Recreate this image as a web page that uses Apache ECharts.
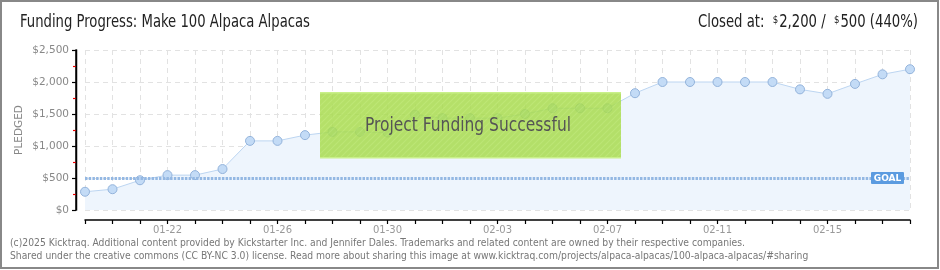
<!DOCTYPE html>
<html>
<head>
<meta charset="utf-8">
<script src="https://cdn.jsdelivr.net/npm/echarts@6/dist/echarts.min.js"></script>
<style>
html,body{margin:0;padding:0;background:#fff;}
#c{width:940px;height:270px;}
</style>
</head>
<body>
<div id="c"></div>
<script>
const dates = ['01-19','01-20','01-21','01-22','01-23','01-24','01-25','01-26','01-27','01-28','01-29','01-30','01-31','02-01','02-02','02-03','02-04','02-05','02-06','02-07','02-08','02-09','02-10','02-11','02-12','02-13','02-14','02-15','02-16','02-17','02-18'];
const pledged = [285,325,465,545,545,640,1080,1080,1170,1220,1220,1210,1490,1435,1435,1435,1500,1590,1590,1590,1825,2000,2000,2000,2000,2000,1885,1815,1970,2120,2200];
const goal = 500;
const yTicks = [0,500,1000,1500,2000,2500];
const titleText = 'Funding Progress: Make 100 Alpaca Alpacas';
const bannerText = 'Project Funding Successful';
const footer1 = '(c)2025 Kicktraq. Additional content provided by Kickstarter Inc. and Jennifer Dales. Trademarks and related content are owned by their respective companies.';
const footer2 = 'Shared under the creative commons (CC BY-NC 3.0) license. Read more about sharing this image at www.kicktraq.com/projects/alpaca-alpacas/100-alpaca-alpacas/#sharing';

function fmt(v){return '$'+v.toLocaleString('en-US');}

const NARROW = '"Liberation Sans Narrow", "DejaVu Sans Condensed", sans-serif';
const mc = document.createElement('canvas').getContext('2d');
function tw(text, font){mc.font = font; return mc.measureText(text).width;}

// hatch pattern for banner
const pc = document.createElement('canvas');
pc.width = 6; pc.height = 6;
const g = pc.getContext('2d');
g.fillStyle = '#a8db4f'; g.fillRect(0,0,6,6);
g.strokeStyle = '#b3e25e'; g.lineWidth = 1.2;
g.beginPath(); g.moveTo(0,6); g.lineTo(6,0); g.moveTo(-3,3); g.lineTo(3,-3); g.moveTo(3,9); g.lineTo(9,3); g.stroke();

const chart = echarts.init(document.getElementById('c'), null, {renderer:'canvas'});
const option = {
  animation:false,
  grid:{left:85,right:30,top:50,bottom:60},
  xAxis:{
    type:'category', data:dates, boundaryGap:false, offset:10,
    axisLine:{show:true,onZero:false,lineStyle:{color:'#000',width:1.5}},
    axisTick:{show:true,interval:0,length:4,lineStyle:{color:'#000',width:1.2}},
    axisLabel:{interval:function(i){return (i-3)%4===0;},color:'#999',fontSize:10,fontFamily:'DejaVu Sans',margin:5},
    splitLine:{show:true,interval:0,lineStyle:{color:'#e2e2e2',type:[5,4]}}
  },
  yAxis:{
    type:'value', min:yTicks[0], max:yTicks[yTicks.length-1], interval:500, offset:9,
    name:'PLEDGED', nameLocation:'middle', nameGap:51, nameRotate:90, nameMoveOverlap:false,
    nameTextStyle:{color:'#888',fontSize:10.5,fontFamily:'DejaVu Sans'},
    axisLine:{show:true,onZero:false,lineStyle:{color:'#000',width:1.5}},
    axisTick:{show:true,length:4,lineStyle:{color:'#000',width:1.2}},
    minorTick:{show:true,splitNumber:2,length:3,lineStyle:{color:'#e00',width:1.2}},
    axisLabel:{color:'#888',fontSize:10.5,fontFamily:'DejaVu Sans',formatter:fmt,margin:7},
    splitLine:{show:true,lineStyle:{color:'#e2e2e2',type:[5,4]}}
  },
  series:[{
    type:'line', data:pledged,
    symbol:'circle', symbolSize:9,
    itemStyle:{color:'#c3dbf6',borderColor:'#93b3db',borderWidth:1},
    lineStyle:{color:'#bcd5f1',width:1},
    areaStyle:{color:'#eef5fd',opacity:1},
    markLine:{
      silent:true, symbol:'none',
      data:[{yAxis:goal}],
      lineStyle:{color:'#94b8e3',width:3,type:[2.5,1.2]},
      label:{show:false}
    },
    z:2
  }]
};
chart.setOption(option);

const gp = chart.convertToPixel({gridIndex:0},[dates.length-1, goal]);
const p0 = chart.convertToPixel({gridIndex:0},[0, yTicks[0]]);
const p1 = chart.convertToPixel({gridIndex:0},[0, yTicks[yTicks.length-1]]);
const axX = 76.5;
const tFont = '17px ' + NARROW;
const sFont = '11px ' + NARROW;
const titleScale = 290 / tw(titleText, tFont);
const closedW = tw('Closed at:  ', tFont) + tw('2,200 /  ', tFont) + tw('500 (440%)', tFont) + 2*(tw('$', sFont)+1);
const closedScale = 220 / closedW;
const bFont = '19px ' + NARROW;
const bannerScale = 206 / tw(bannerText, bFont);
const fFont = '10px "DejaVu Sans Condensed", "DejaVu Sans", sans-serif';
const f1Scale = 735 / tw(footer1, fFont);

chart.setOption({
  graphic:[
    {type:'rect',z:100,shape:{x:1,y:1,width:937,height:267},style:{fill:'none',stroke:'#888',lineWidth:2}},
    {type:'rect',z:100,shape:{x:axX-0.75,y:p1[1]-0.5,width:1.5,height:p0[1]-p1[1]+1},style:{fill:'#000'}},
    {type:'text',z:100,x:20,y:23,scaleX:titleScale,style:{text:titleText,fill:'#222',font:tFont,verticalAlign:'middle'}},
    {type:'text',z:100,x:918,y:23,scaleX:closedScale,style:{
      align:'right',verticalAlign:'middle',
      rich:{
        a:{font:tFont,fill:'#222'},
        s:{font:sFont,fill:'#222',verticalAlign:'top',padding:[0,1,6,0]}
      },
      text:'{a|Closed at:  }{s|$}{a|2,200 /  }{s|$}{a|500 (440%)}'
    }},
    {type:'rect',z:100,shape:{x:320,y:92,width:301,height:66},style:{fill:{image:pc,repeat:'repeat'},opacity:0.85}},
    {type:'rect',z:101,shape:{x:320,y:92,width:301,height:1.5},style:{fill:'#c9f08a'}},
    {type:'rect',z:101,shape:{x:320,y:157,width:301,height:1.5},style:{fill:'#c9f08a'}},
    {type:'text',z:102,x:468,y:126,scaleX:bannerScale,style:{text:bannerText,fill:'#555',align:'center',verticalAlign:'middle',
        font:bFont,textShadowColor:'#fff',textShadowOffsetX:1,textShadowOffsetY:1,textShadowBlur:0}},
    {type:'rect',z:100,shape:{x:gp[0]-39,y:gp[1]-6,width:33,height:12,r:1},style:{fill:'#5b9be0'}},
    {type:'text',z:101,x:gp[0]-22.5,y:gp[1]+0.5,style:{text:'GOAL',fill:'#fff',align:'center',verticalAlign:'middle',font:'bold 9px "DejaVu Sans", sans-serif'}},
    {type:'text',z:100,x:10,y:243,scaleX:f1Scale,style:{text:footer1,fill:'#777',font:fFont,verticalAlign:'middle'}},
    {type:'text',z:100,x:10,y:256,scaleX:f1Scale,style:{text:footer2,fill:'#777',font:fFont,verticalAlign:'middle'}}
  ]
});
</script>
</body>
</html>
